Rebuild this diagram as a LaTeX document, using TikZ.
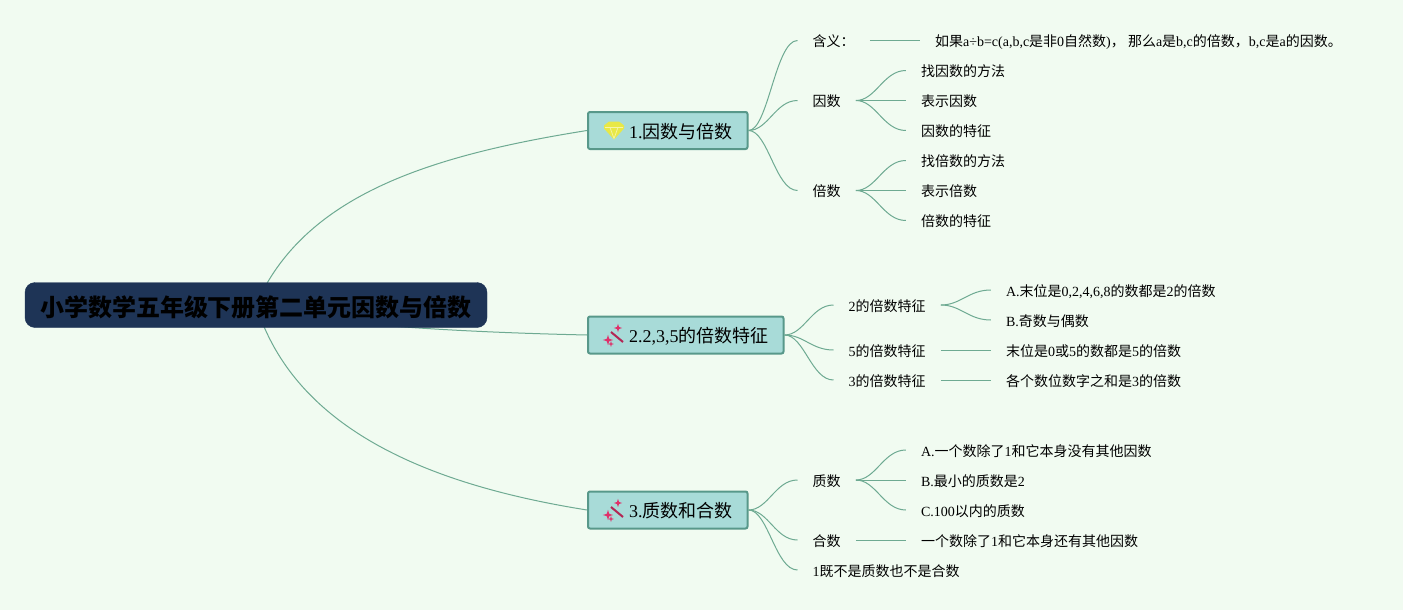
\documentclass[tikz,border=0pt]{standalone}
\usepackage{fontspec}
\setmainfont{Noto Sans CJK SC}
\newfontfamily\latfont{Liberation Serif}
\newcommand{\lat}[1]{{\latfont #1}}
\usetikzlibrary{positioning,calc,backgrounds,shapes.geometric}
\definecolor{mapBack}{RGB}{241,251,241}
\definecolor{mapRoot}{RGB}{30,52,86}
\definecolor{mapTopic}{RGB}{168,219,216}
\definecolor{mapEdge}{RGB}{88,152,138}
\definecolor{mapLine}{RGB}{110,170,146}
\definecolor{gemYellow}{RGB}{232,232,70}
\definecolor{wandPink}{RGB}{224,48,106}

\begin{document}
\begin{tikzpicture}[
  x=1pt,y=-1pt,
  rootbox/.style={rectangle,fill=mapRoot,draw=mapRoot,rounded corners=10pt,minimum width=462pt,minimum height=45pt,inner sep=0pt,text height=24pt,text depth=2pt,font=\fontsize{24}{28}\selectfont\bfseries,text=black},
  topic/.style={rectangle,draw=mapEdge,fill=mapTopic,line width=2pt,rounded corners=2pt,minimum height=37pt,inner xsep=15pt,inner ysep=0pt,text height=16.5pt,text depth=1.5pt,font=\fontsize{18}{22}\selectfont},
  leaf/.style={inner xsep=15pt,inner ysep=0pt,text height=13pt,text depth=1pt,font=\fontsize{14}{16}\selectfont},
  conn/.style={mapLine,line width=1pt},
  branch/.style={to path={let \p1=(\tikztostart),\p2=(\tikztotarget) in .. controls ({\x1+0.4*(\x2-\x1)},\y1) and ({\x1+0.55*(\x2-\x1)},\y2) .. (\tikztotarget)}},
  gemicon/.pic={
    \fill[gemYellow] (-10,-5) -- (-5,-9) -- (5,-9) -- (10,-5) -- (10,-2) -- (0,9) -- (-10,-2) -- cycle;
    \draw[white!55!gemYellow,line width=0.7pt] (-9,-3) -- (9,-3) (-4,-3) -- (0,8) -- (4,-3);
  },
  wandicon/.pic={
    \draw[wandPink!80!black,line width=2pt] (-3,-3) -- (9,7);
    \node[star,star points=4,star point ratio=3,fill=wandPink,inner sep=1.2pt] (spA) at (-6,5) {};
    \node[star,star points=4,star point ratio=3,fill=wandPink,inner sep=1pt] (spB) at (4,-7) {};
    \node[star,star points=4,star point ratio=3,fill=wandPink,inner sep=0.7pt] (spC) at (-3,9) {};
  }
]
  \useasboundingbox (0,0) rectangle (1403,610);

  \node[rootbox] (root) at (256,305) {小学数学五年级下册第二单元因数与倍数};

  \node[topic,anchor=west] (t1) at (587,130.5) {\hspace*{26pt}\lat{1.}因数与倍数};
  \node[topic,anchor=west] (t2) at (587,335) {\hspace*{26pt}\lat{2.2,3,5}的倍数特征};
  \node[topic,anchor=west] (t3) at (587,510) {\hspace*{26pt}\lat{3.}质数和合数};

  \pic at ($(t1.west)+(27,0)$) {gemicon};
  \pic at ($(t2.west)+(27,0)$) {wandicon};
  \pic at ($(t3.west)+(27,0)$) {wandicon};

  % first branch
  \node[leaf,right=49pt of t1,yshift=90pt] (mean) {含义：};
  \node[leaf,right=49pt of t1,yshift=30pt] (fac) {因数};
  \node[leaf,right=49pt of t1,yshift=-60pt] (mul) {倍数};
  \node[leaf,right=50pt of mean] (meantxt) {如果\lat{a÷b=c(a,b,c}是非\lat{0}自然数\lat{)}， 那么\lat{a}是\lat{b,c}的倍数，\lat{b,c}是\lat{a}的因数。};
  \node[leaf,right=50pt of fac,yshift=30pt] (fac1) {找因数的方法};
  \node[leaf,right=50pt of fac] (fac2) {表示因数};
  \node[leaf,right=50pt of fac,yshift=-30pt] (fac3) {因数的特征};
  \node[leaf,right=50pt of mul,yshift=30pt] (mul1) {找倍数的方法};
  \node[leaf,right=50pt of mul] (mul2) {表示倍数};
  \node[leaf,right=50pt of mul,yshift=-30pt] (mul3) {倍数的特征};

  % second branch
  \node[leaf,right=49pt of t2,yshift=30pt] (two) {\lat{2}的倍数特征};
  \node[leaf,right=49pt of t2,yshift=-15pt] (five) {\lat{5}的倍数特征};
  \node[leaf,right=49pt of t2,yshift=-45pt] (three) {\lat{3}的倍数特征};
  \node[leaf,right=50pt of two,yshift=15pt] (two1) {\lat{A.}末位是\lat{0,2,4,6,8}的数都是\lat{2}的倍数};
  \node[leaf,right=50pt of two,yshift=-15pt] (two2) {\lat{B.}奇数与偶数};
  \node[leaf,right=50pt of five] (five1) {末位是\lat{0}或\lat{5}的数都是\lat{5}的倍数};
  \node[leaf,right=50pt of three] (three1) {各个数位数字之和是\lat{3}的倍数};

  % third branch
  \node[leaf,right=49pt of t3,yshift=30pt] (prime) {质数};
  \node[leaf,right=49pt of t3,yshift=-30pt] (comp) {合数};
  \node[leaf,right=49pt of t3,yshift=-60pt] (one) {\lat{1}既不是质数也不是合数};
  \node[leaf,right=50pt of prime,yshift=30pt] (prime1) {\lat{A.}一个数除了\lat{1}和它本身没有其他因数};
  \node[leaf,right=50pt of prime] (prime2) {\lat{B.}最小的质数是\lat{2}};
  \node[leaf,right=50pt of prime,yshift=-30pt] (prime3) {\lat{C.100}以内的质数};
  \node[leaf,right=50pt of comp] (comp1) {一个数除了\lat{1}和它本身还有其他因数};

  \begin{scope}[on background layer]
    \fill[mapBack] (0,0) rectangle (1403,610);
    \draw[conn] (root.center) .. controls +(48,-110) and +(-157,25) .. (t1.west);
    \draw[conn] (root.center) .. controls +(44,18) and +(-137,-3) .. (t2.west);
    \draw[conn] (root.center) .. controls +(39,125) and +(-157,-25) .. (t3.west);
  \end{scope}

  \draw[conn] (t1.east) to[branch] (mean.west);
  \draw[conn] (t1.east) to[branch] (fac.west);
  \draw[conn] (t1.east) to[branch] (mul.west);
  \draw[conn] (mean.east) -- (meantxt.west);
  \draw[conn] (fac.east) to[branch] (fac1.west);
  \draw[conn] (fac.east) -- (fac2.west);
  \draw[conn] (fac.east) to[branch] (fac3.west);
  \draw[conn] (mul.east) to[branch] (mul1.west);
  \draw[conn] (mul.east) -- (mul2.west);
  \draw[conn] (mul.east) to[branch] (mul3.west);

  \draw[conn] (t2.east) to[branch] (two.west);
  \draw[conn] (t2.east) to[branch] (five.west);
  \draw[conn] (t2.east) to[branch] (three.west);
  \draw[conn] (two.east) to[branch] (two1.west);
  \draw[conn] (two.east) to[branch] (two2.west);
  \draw[conn] (five.east) -- (five1.west);
  \draw[conn] (three.east) -- (three1.west);

  \draw[conn] (t3.east) to[branch] (prime.west);
  \draw[conn] (t3.east) to[branch] (comp.west);
  \draw[conn] (t3.east) to[branch] (one.west);
  \draw[conn] (prime.east) to[branch] (prime1.west);
  \draw[conn] (prime.east) -- (prime2.west);
  \draw[conn] (prime.east) to[branch] (prime3.west);
  \draw[conn] (comp.east) -- (comp1.west);
\end{tikzpicture}
\end{document}
